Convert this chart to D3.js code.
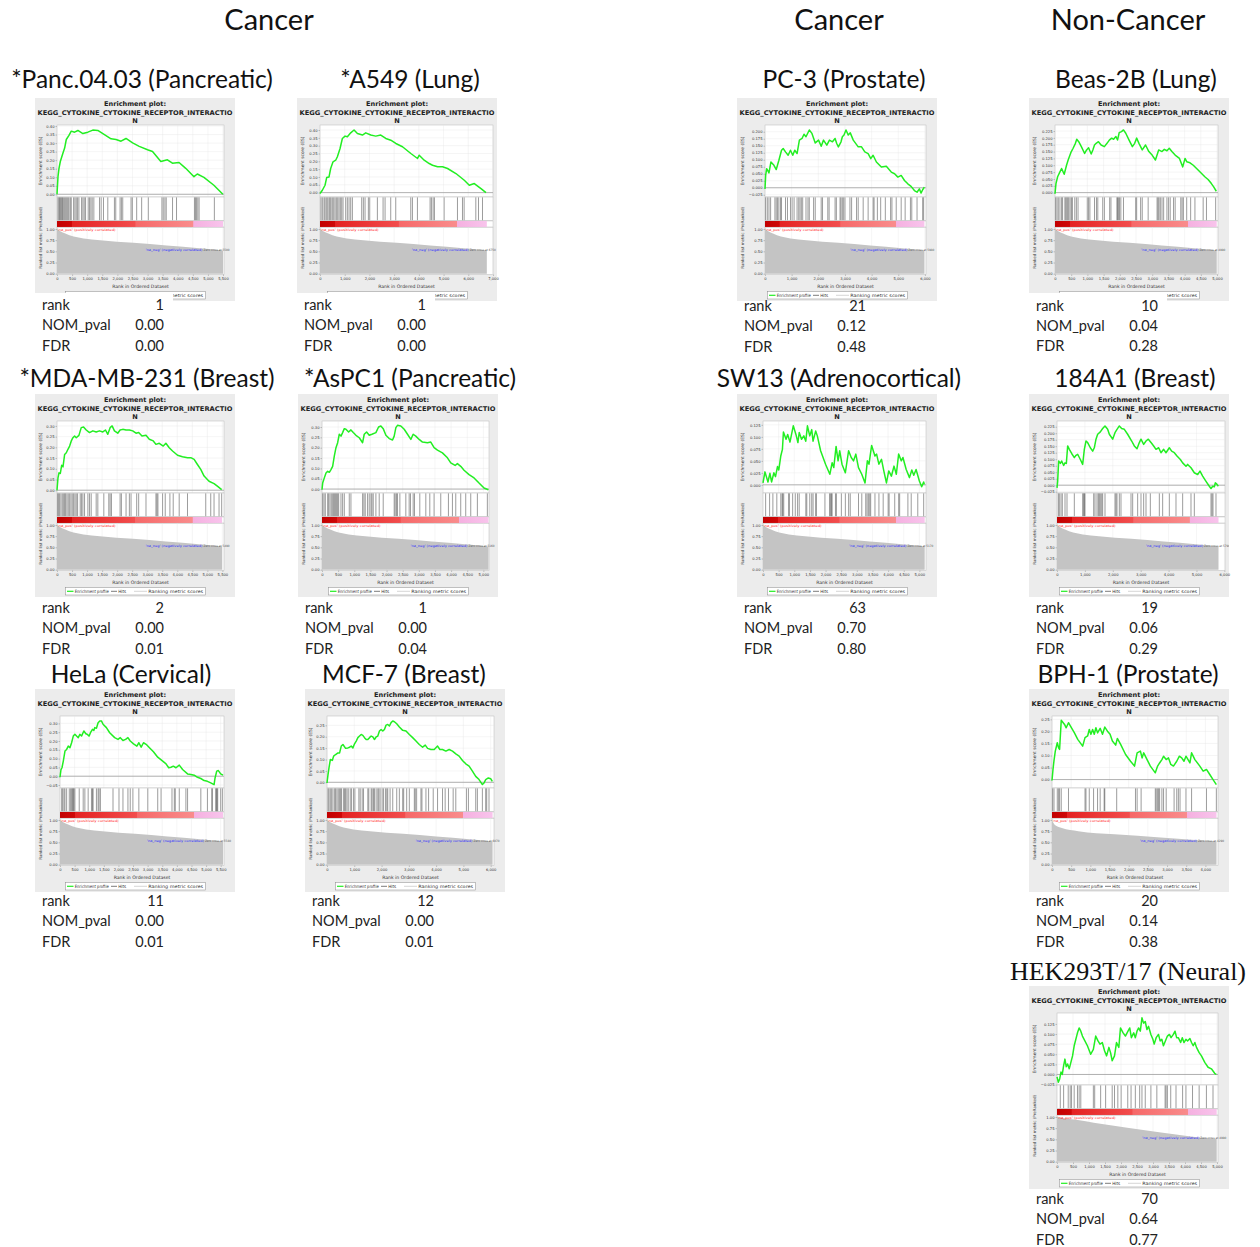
<!DOCTYPE html>
<html><head><meta charset="utf-8">
<script src="https://cdn.jsdelivr.net/npm/d3@7"></script>
<style>body{margin:0;background:#fff}</style>
</head><body><svg id="fig" width="1260" height="1247"></svg>
<script>
// ---- data -------------------------------------------------------------
const groupHeaders = ["Cancer", "Cancer", "Non-Cancer"];
const panelTitles = ["*Panc.04.03 (Pancreatic)", "*A549 (Lung)", "PC-3 (Prostate)", "Beas-2B (Lung)",
  "*MDA-MB-231 (Breast)", "*AsPC1 (Pancreatic)", "SW13 (Adrenocortical)", "184A1 (Breast)",
  "HeLa (Cervical)", "MCF-7 (Breast)", "BPH-1 (Prostate)", "HEK293T/17 (Neural)"];
const geneSet = ["Enrichment plot:", "KEGG_CYTOKINE_CYTOKINE_RECEPTOR_INTERACTIO", "N"];
const ranks = ["1", "1", "21", "10", "2", "1", "63", "19", "11", "12", "20", "70"];
const nomPvals = ["0.00", "0.00", "0.12", "0.04", "0.00", "0.00", "0.70", "0.06", "0.00", "0.00", "0.14", "0.64"];
const fdrs = ["0.00", "0.00", "0.48", "0.28", "0.01", "0.04", "0.80", "0.29", "0.01", "0.01", "0.38", "0.77"];
const listSizes = [5500, 6750, 5980, 4990, 5490, 5160, 5170, 5790, 5580, 6070, 4290, 4990];
const rankAxisMax = [5533, 7000, 6040, 5030, 5553, 5175, 5212, 6023, 5613, 6122, 4329, 5031];
const esDomains = [[-0.016, 0.406], [-0.028, 0.432], [-0.033, 0.224], [-0.016, 0.247],
  [-0.013, 0.323], [-0.019, 0.329], [-0.017, 0.133], [-0.030, 0.247],
  [-0.067, 0.342], [-0.025, 0.291], [-0.035, 0.264], [-0.026, 0.152]];

const ticks500_4000 = [0, 500, 1000, 1500, 2000, 2500, 3000, 3500, 4000];
const ticks500_5000 = [0, 500, 1000, 1500, 2000, 2500, 3000, 3500, 4000, 4500, 5000];
const ticks500_5500 = [0, 500, 1000, 1500, 2000, 2500, 3000, 3500, 4000, 4500, 5000, 5500];
const ticks1000_6000 = [0, 1000, 2000, 3000, 4000, 5000, 6000];
const ticks1000_7000 = [0, 1000, 2000, 3000, 4000, 5000, 6000, 7000];
const rankTicks = [ticks500_5500, ticks1000_7000, ticks1000_6000, ticks500_5000,
  ticks500_5500, ticks500_5000, ticks500_5000, ticks1000_6000,
  ticks500_5500, ticks1000_6000, ticks500_4000, ticks500_5000];

const es05_40 = [0, 0.05, 0.10, 0.15, 0.20, 0.25, 0.30, 0.35, 0.40];
const es05_30 = [0, 0.05, 0.10, 0.15, 0.20, 0.25, 0.30];
const es05_25 = [0, 0.05, 0.10, 0.15, 0.20, 0.25];
const es05_30n = [-0.05, 0, 0.05, 0.10, 0.15, 0.20, 0.25, 0.30];
const es025_200n = [-0.025, 0, 0.025, 0.05, 0.075, 0.1, 0.125, 0.15, 0.175, 0.2];
const es025_225 = [0, 0.025, 0.05, 0.075, 0.1, 0.125, 0.15, 0.175, 0.2, 0.225];
const es025_225n = [-0.025, 0, 0.025, 0.05, 0.075, 0.1, 0.125, 0.15, 0.175, 0.2, 0.225];
const es025_125 = [0, 0.025, 0.05, 0.075, 0.1, 0.125];
const es025_125n = [-0.025, 0, 0.025, 0.05, 0.075, 0.1, 0.125];
const esTicks = [es05_40, es05_40, es025_200n, es025_225, es05_30, es05_30, es025_125, es025_225n,
  es05_30n, es05_25, es05_25, es025_125n];

// running enrichment score, [rank, ES]
const esPanc = [[0,0],[33,0.103],[66,0.152],[110,0.192],[198,0.242],[253,0.271],[308,0.321],[396,0.345],[473,0.370],[582,0.364],[692,0.374],[857,0.356],[1022,0.364],[1187,0.376],[1352,0.374],[1571,0.350],[1791,0.325],[1956,0.321],[2121,0.311],[2286,0.327],[2505,0.301],[2725,0.281],[3000,0.261],[3165,0.251],[3440,0.192],[3659,0.202],[3824,0.182],[4044,0.186],[4264,0.152],[4538,0.103],[4648,0.119],[4868,0.099],[5198,0.053],[5495,0]];
const esA549 = [[0,-0.006],[95,0.015],[203,0.047],[270,0.096],[365,0.100],[432,0.154],[527,0.197],[635,0.207],[703,0.229],[811,0.282],[905,0.346],[1014,0.361],[1108,0.357],[1243,0.382],[1378,0.400],[1514,0.378],[1716,0.368],[1851,0.382],[2054,0.368],[2257,0.361],[2459,0.368],[2662,0.346],[2865,0.335],[3068,0.314],[3338,0.293],[3676,0.250],[3946,0.218],[4014,0.239],[4216,0.207],[4419,0.186],[4554,0.175],[4757,0.165],[4959,0.165],[5162,0.154],[5500,0.122],[5838,0.079],[6041,0.047],[6243,0.058],[6514,0.026],[6716,0]];
const esPC3 = [[0,-0.004],[25,0.044],[62,0.068],[149,0.053],[223,0.092],[335,0.080],[422,0.065],[521,0.098],[620,0.134],[682,0.140],[769,0.128],[868,0.116],[955,0.134],[1042,0.116],[1116,0.134],[1203,0.122],[1290,0.170],[1389,0.176],[1463,0.191],[1538,0.182],[1662,0.206],[1761,0.194],[1885,0.160],[2009,0.170],[2108,0.148],[2195,0.170],[2319,0.152],[2418,0.170],[2530,0.164],[2629,0.176],[2691,0.158],[2753,0.146],[2852,0.164],[2902,0.182],[2964,0.188],[3038,0.206],[3125,0.188],[3199,0.196],[3311,0.170],[3497,0.146],[3621,0.146],[3745,0.128],[3869,0.122],[3968,0.104],[4055,0.116],[4179,0.092],[4365,0.074],[4551,0.077],[4737,0.056],[4861,0.050],[4985,0.038],[5109,0.044],[5233,0.026],[5357,0.014],[5481,0.005],[5605,-0.010],[5704,-0.016],[5791,-0.004],[5853,-0.019],[5915,-0.007],[5977,0.002]];
const esBeas = [[0,-0.004],[30,0.033],[81,0.058],[152,0.076],[203,0.088],[284,0.067],[356,0.100],[406,0.119],[488,0.146],[559,0.162],[630,0.180],[671,0.195],[732,0.186],[813,0.168],[914,0.143],[975,0.156],[1036,0.164],[1117,0.141],[1168,0.156],[1219,0.174],[1270,0.180],[1341,0.186],[1422,0.174],[1524,0.168],[1605,0.180],[1676,0.192],[1748,0.199],[1808,0.195],[1880,0.205],[1930,0.192],[1981,0.219],[2052,0.223],[2113,0.229],[2184,0.217],[2286,0.192],[2388,0.168],[2459,0.180],[2520,0.199],[2591,0.180],[2692,0.156],[2794,0.174],[2896,0.150],[2997,0.137],[3099,0.119],[3200,0.156],[3302,0.150],[3373,0.158],[3454,0.153],[3526,0.162],[3607,0.150],[3708,0.137],[3840,0.125],[3942,0.094],[4013,0.125],[4064,0.113],[4166,0.109],[4267,0.100],[4369,0.088],[4470,0.076],[4623,0.058],[4724,0.048],[4826,0.033],[4897,0.021],[4978,0.005]];
const esMDA = [[0,0],[33,0.058],[66,0.081],[110,0.078],[155,0.116],[199,0.109],[254,0.167],[309,0.175],[364,0.191],[420,0.206],[475,0.230],[530,0.245],[585,0.253],[640,0.245],[729,0.256],[806,0.292],[883,0.295],[972,0.281],[1082,0.269],[1192,0.277],[1303,0.272],[1413,0.277],[1524,0.272],[1612,0.281],[1689,0.261],[1766,0.292],[1833,0.300],[1910,0.277],[2020,0.266],[2098,0.281],[2186,0.284],[2296,0.281],[2407,0.281],[2517,0.277],[2628,0.266],[2716,0.269],[2826,0.253],[2959,0.256],[3069,0.238],[3202,0.230],[3290,0.214],[3400,0.219],[3533,0.206],[3621,0.219],[3732,0.198],[3842,0.183],[4008,0.163],[4173,0.156],[4339,0.152],[4449,0.152],[4560,0.144],[4670,0.120],[4780,0.097],[4891,0.066],[5056,0.042],[5222,0.031],[5332,0.019],[5476,0.003]];
const esAsPC1 = [[0,-0.003],[21,0.029],[72,0.054],[124,0.078],[175,0.086],[227,0.081],[278,0.094],[330,0.110],[381,0.159],[433,0.200],[485,0.224],[536,0.265],[588,0.256],[639,0.273],[691,0.292],[742,0.289],[825,0.276],[897,0.286],[969,0.273],[1052,0.260],[1155,0.248],[1258,0.224],[1309,0.265],[1382,0.276],[1464,0.260],[1547,0.265],[1670,0.273],[1753,0.300],[1825,0.305],[1897,0.292],[1980,0.260],[2083,0.244],[2186,0.237],[2237,0.256],[2289,0.297],[2340,0.308],[2443,0.305],[2547,0.289],[2650,0.265],[2753,0.240],[2825,0.265],[2907,0.256],[3011,0.240],[3114,0.227],[3268,0.224],[3371,0.227],[3474,0.200],[3578,0.188],[3732,0.175],[3887,0.151],[3990,0.127],[4124,0.114],[4196,0.123],[4299,0.110],[4402,0.091],[4557,0.070],[4712,0.054],[4866,0.029],[5021,0.005],[5155,-0.003]];
const esSW13 = [[0,0.004],[63,0.027],[158,0.006],[221,0.024],[274,0.006],[347,0.025],[400,0.017],[463,0.038],[505,0.031],[568,0.060],[621,0.074],[653,0.110],[737,0.095],[789,0.105],[863,0.089],[968,0.123],[1053,0.105],[1116,0.088],[1158,0.109],[1232,0.095],[1305,0.102],[1368,0.091],[1421,0.123],[1495,0.102],[1558,0.115],[1600,0.091],[1684,0.112],[1737,0.102],[1842,0.071],[2000,0.043],[2137,0.022],[2211,0.046],[2263,0.036],[2337,0.080],[2400,0.050],[2453,0.071],[2526,0.043],[2632,0.025],[2737,0.071],[2821,0.057],[2895,0.050],[2968,0.064],[3053,0.036],[3158,0.022],[3263,0.004],[3337,0.050],[3389,0.043],[3474,0.082],[3579,0.060],[3632,0.064],[3705,0.043],[3789,0.053],[3863,0.029],[3947,0.004],[4021,0.029],[4105,0.018],[4189,0.039],[4263,0.022],[4337,0.064],[4421,0.050],[4474,0.057],[4579,0.032],[4684,0.015],[4758,0.031],[4821,0.020],[4895,0.032],[5000,0.008],[5074,-0.004],[5137,0.006],[5158,0.001]];
const es184A1 = [[0,-0.010],[24,0.015],[60,0.093],[120,0.084],[167,0.093],[239,0.076],[287,0.086],[335,0.084],[382,0.151],[442,0.138],[526,0.122],[621,0.106],[681,0.115],[741,0.119],[837,0.099],[920,0.080],[980,0.138],[1040,0.170],[1099,0.164],[1195,0.144],[1279,0.131],[1338,0.144],[1398,0.177],[1458,0.196],[1554,0.205],[1637,0.218],[1721,0.228],[1816,0.215],[1876,0.196],[1996,0.177],[2079,0.202],[2151,0.215],[2235,0.228],[2318,0.218],[2414,0.215],[2533,0.196],[2677,0.170],[2772,0.151],[2868,0.140],[2952,0.164],[3011,0.177],[3107,0.157],[3191,0.170],[3274,0.177],[3370,0.164],[3466,0.151],[3549,0.138],[3645,0.144],[3728,0.125],[3824,0.138],[3908,0.125],[4027,0.144],[4111,0.131],[4206,0.125],[4302,0.112],[4422,0.099],[4505,0.086],[4625,0.073],[4684,0.080],[4804,0.067],[4923,0.048],[5043,0.041],[5127,0.054],[5222,0.035],[5342,0.015],[5461,-0.004],[5521,-0.013],[5581,-0.004],[5640,-0.006],[5676,0.009],[5736,0.003],[5784,-0.004]];
const esHeLa = [[0,-0.006],[34,0.038],[68,0.048],[113,0.086],[170,0.143],[227,0.152],[283,0.171],[340,0.162],[397,0.190],[454,0.228],[510,0.238],[567,0.228],[624,0.219],[680,0.238],[737,0.228],[816,0.257],[885,0.241],[930,0.238],[998,0.228],[1043,0.247],[1111,0.266],[1157,0.260],[1191,0.276],[1247,0.272],[1304,0.304],[1361,0.314],[1418,0.314],[1474,0.295],[1588,0.276],[1701,0.247],[1871,0.219],[1985,0.209],[2064,0.219],[2155,0.203],[2245,0.209],[2325,0.219],[2404,0.200],[2517,0.184],[2631,0.171],[2699,0.190],[2778,0.165],[2858,0.190],[2948,0.181],[3062,0.162],[3198,0.139],[3345,0.108],[3515,0.086],[3629,0.070],[3720,0.048],[3799,0.051],[3878,0.057],[3969,0.048],[4082,0.063],[4196,0.038],[4366,0.013],[4479,0.010],[4593,0.006],[4706,-0.006],[4820,-0.013],[4933,-0.025],[5046,-0.029],[5160,-0.038],[5273,-0.048],[5307,-0.010],[5364,0.029],[5420,0.032],[5500,0.013],[5579,0.006]];
const esMCF7 = [[0,-0.003],[37,0.034],[73,0.063],[122,0.100],[195,0.096],[243,0.115],[316,0.122],[402,0.129],[462,0.129],[523,0.159],[584,0.166],[682,0.149],[767,0.151],[828,0.154],[888,0.159],[949,0.151],[1010,0.169],[1071,0.181],[1132,0.196],[1193,0.203],[1253,0.210],[1314,0.206],[1375,0.196],[1436,0.188],[1497,0.188],[1558,0.196],[1619,0.203],[1680,0.199],[1740,0.188],[1801,0.199],[1862,0.203],[1923,0.225],[1984,0.232],[2045,0.225],[2105,0.232],[2166,0.251],[2227,0.254],[2288,0.247],[2349,0.262],[2410,0.269],[2471,0.266],[2556,0.257],[2653,0.243],[2775,0.228],[2897,0.225],[3018,0.210],[3140,0.196],[3262,0.181],[3383,0.166],[3505,0.154],[3602,0.163],[3688,0.149],[3809,0.144],[3931,0.144],[4053,0.159],[4138,0.144],[4235,0.144],[4357,0.137],[4479,0.144],[4600,0.137],[4722,0.125],[4844,0.115],[4966,0.096],[5087,0.081],[5209,0.071],[5331,0.049],[5452,0.026],[5574,0.012],[5696,-0.010],[5756,-0.003],[5817,0.012],[5915,0.019],[6000,0.016],[6061,0.004]];
const esBPH1 = [[0,-0.004],[26,0.042],[52,0.079],[86,0.118],[138,0.153],[172,0.132],[198,0.125],[241,0.246],[327,0.229],[370,0.215],[430,0.236],[482,0.222],[585,0.194],[671,0.167],[800,0.139],[861,0.174],[929,0.181],[972,0.208],[1015,0.188],[1059,0.208],[1102,0.188],[1145,0.215],[1188,0.194],[1256,0.213],[1317,0.188],[1377,0.218],[1446,0.201],[1515,0.188],[1575,0.160],[1661,0.143],[1704,0.171],[1790,0.146],[1919,0.104],[2048,0.076],[2152,0.056],[2220,0.111],[2306,0.118],[2349,0.090],[2392,0.111],[2479,0.083],[2565,0.056],[2694,0.028],[2754,0.056],[2806,0.069],[2866,0.083],[2909,0.097],[2978,0.083],[3038,0.090],[3098,0.063],[3167,0.056],[3253,0.076],[3322,0.097],[3382,0.090],[3442,0.076],[3494,0.097],[3597,0.069],[3640,0.111],[3726,0.083],[3855,0.056],[3942,0.035],[4028,0.042],[4114,0.021],[4200,0],[4286,-0.021]];
const esHEK = [[0,-0.006],[41,-0.019],[83,-0.011],[124,0.006],[165,0],[207,0.022],[248,0.038],[289,0.019],[331,0.026],[382,0.014],[434,0.030],[486,0.046],[537,0.071],[589,0.087],[640,0.103],[692,0.115],[744,0.107],[795,0.095],[847,0.087],[950,0.071],[1053,0.050],[1136,0.062],[1209,0.095],[1281,0.083],[1343,0.075],[1415,0.079],[1488,0.058],[1550,0.046],[1622,0.067],[1673,0.054],[1725,0.034],[1797,0.046],[1859,0.079],[1932,0.067],[1983,0.115],[2066,0.103],[2138,0.095],[2190,0.103],[2273,0.115],[2324,0.091],[2397,0.103],[2448,0.091],[2500,0.107],[2552,0.115],[2603,0.107],[2655,0.140],[2706,0.127],[2758,0.131],[2810,0.111],[2861,0.119],[2934,0.099],[2996,0.087],[3037,0.075],[3099,0.091],[3171,0.099],[3223,0.083],[3275,0.087],[3326,0.071],[3409,0.087],[3450,0.095],[3512,0.099],[3564,0.091],[3636,0.099],[3688,0.107],[3739,0.091],[3791,0.091],[3863,0.079],[3915,0.091],[3967,0.079],[4029,0.087],[4080,0.083],[4153,0.089],[4204,0.079],[4256,0.071],[4308,0.079],[4359,0.067],[4442,0.054],[4514,0.046],[4617,0.030],[4721,0.018],[4824,0.014],[4927,0.003],[4979,0]];

// ranks of the gene-set members (hits)
const hitsPanc = [33,66,88,121,143,176,198,231,264,297,330,363,396,440,473,550,594,638,682,726,814,858,902,946,1034,1078,1122,1166,1221,1408,1463,1540,1683,1903,1947,2090,2134,2178,2453,2497,2640,2805,3025,3476,3520,3575,3619,3828,3960,4554,4587,4620,4664,4708,5214];
const hitsA549 = [41,95,162,203,257,311,365,405,446,500,554,608,662,716,770,824,878,932,1040,1107,1175,1242,1310,1688,1755,1823,1958,2012,2322,2552,2633,2862,3065,3672,3740,3942,4455,4509,4577,4631,5022,5562,5765,5832,6305,6413,6575];
const hitsPC3 = [25,87,149,211,372,422,471,521,583,620,769,843,955,1017,1091,1203,1265,1314,1364,1414,1538,1612,1662,1823,1885,2108,2158,2356,2406,2629,2678,2815,2852,2902,2951,3001,3187,3249,3435,3497,3683,3869,4055,4092,4216,4340,4514,4712,4762,4923,5109,5258,5456,5506,5704,5915,5952];
const hitsBeas = [20,61,102,152,203,234,305,335,366,396,427,467,508,538,610,660,711,996,1036,1077,1219,1280,1321,1473,1524,1687,1727,1910,1930,1961,1991,2032,2113,2489,2520,2642,2692,2875,3150,3180,3210,3251,3302,3353,3454,3505,3556,3658,3708,3881,3922,3962,4064,4186,4318,4572,4674,4958];
const hitsMDA = [22,55,88,132,177,221,254,287,331,375,420,464,508,552,596,640,684,773,817,861,916,1027,1082,1137,1303,1358,1557,1722,1766,1811,2098,2142,2296,2407,2462,2650,2716,2959,3290,3323,3356,3511,3599,3754,3864,4063,4339,4946,5112,5222,5388,5476];
const hitsAsPC1 = [21,62,103,175,206,247,289,330,361,392,423,454,485,516,588,639,691,845,897,1258,1299,1340,1412,1464,1516,1547,1588,1670,1773,1897,2237,2268,2309,2340,2413,2598,2701,2742,2825,2866,3031,3217,3340,3474,3680,3918,4042,4145,4299,4454,4609,4815,5124];
const hitsSW13 = [84,211,316,442,569,611,632,663,821,842,948,1032,1106,1158,1369,1400,1495,1558,1601,1685,1706,1980,2127,2159,2190,2211,2317,2348,2506,2633,2738,2790,3054,3159,3285,3327,3370,3412,3443,3580,3707,3843,4001,4033,4212,4338,4370,4633,4739,4949,5138];
const hits184A1 = [48,84,143,191,287,359,621,920,956,980,1004,1315,1362,1434,1482,1518,1554,1601,1637,1721,2079,2115,2151,2235,2294,2653,2713,2892,3011,3107,3191,3346,3669,3788,4027,4266,4505,4804,4923,5521,5557,5593,5700];
const hitsHeLa = [57,91,136,170,227,318,363,397,431,454,476,510,658,794,851,964,1077,1111,1134,1247,1304,1338,1383,1814,2019,2155,2325,2404,2495,2699,3005,3345,3459,3833,3912,3946,4082,4309,4366,4820,5046,5194,5216,5330,5352,5375,5398,5500,5557];
const hitsMCF7 = [37,73,122,170,219,280,316,365,414,462,499,535,609,645,682,730,779,852,901,974,1022,1168,1217,1290,1339,1497,1533,1619,1655,1704,1740,1801,1862,1899,1947,2020,2069,2142,2191,2227,2312,2410,2556,2653,2775,2811,2921,3018,3201,3237,3286,3444,3481,3627,3724,3894,4053,4235,4332,4454,4625,4722,5111,5184,5452,5513,5696,5817,5854,5939];
const hitsBPH1 = [17,52,138,172,198,241,430,861,886,972,1084,1188,1256,1360,1377,1687,2177,2220,2324,2694,2719,2754,2780,2806,2866,2909,2978,3184,3253,3296,3339,3494,3640,4028,4286];
const hitsHEK = [103,207,351,413,455,537,640,692,744,1136,1178,1364,1519,1725,1797,1901,2004,2211,2314,2448,2583,2655,2758,2934,3120,3378,3409,3450,3554,3719,3925,4029,4235,4442,4669,4875];

// ranked list metric, [fraction of list, scaled metric]
const metricTypical = [[0,1.0],[0.02,0.95],[0.05,0.9],[0.1,0.83],[0.16,0.79],[0.26,0.75],[0.46,0.69],[0.66,0.63],[0.86,0.57],[1.0,0.52]];
const metricBPH1 = [[0,1.0],[0.02,0.88],[0.06,0.82],[0.16,0.75],[0.38,0.68],[0.66,0.61],[1.0,0.52]];
const metricHEK = [[0,1.0],[0.05,0.97],[0.13,0.93],[0.23,0.87],[0.44,0.76],[0.64,0.66],[0.85,0.56],[1.0,0.51]];

const esSeries = [esPanc, esA549, esPC3, esBeas, esMDA, esAsPC1, esSW13, es184A1, esHeLa, esMCF7, esBPH1, esHEK];
const hitSeries = [hitsPanc, hitsA549, hitsPC3, hitsBeas, hitsMDA, hitsAsPC1, hitsSW13, hits184A1, hitsHeLa, hitsMCF7, hitsBPH1, hitsHEK];
const metricSeries = [metricTypical, metricTypical, metricTypical, metricTypical, metricTypical, metricTypical,
  metricTypical, metricTypical, metricTypical, metricTypical, metricBPH1, metricHEK];

// ---- layout -----------------------------------------------------------
const panelBoxes = [
  {x: 35, y: 98, left: 22, right: 189, cover: true},
  {x: 297, y: 98, left: 23, right: 196, cover: true},
  {x: 737, y: 98, left: 28, right: 189},
  {x: 1029, y: 98, left: 26, right: 189, cover: true},
  {x: 35, y: 394, left: 22, right: 189},
  {x: 298, y: 394, left: 24, right: 191},
  {x: 737, y: 394, left: 26, right: 189},
  {x: 1029, y: 394, left: 28, right: 196},
  {x: 35, y: 689, left: 25, right: 189},
  {x: 305, y: 689, left: 22, right: 189},
  {x: 1029, y: 689, left: 23, right: 189},
  {x: 1029, y: 986, left: 28, right: 189}
];
const titleCenters = [[142, 79], [410, 79], [844, 79], [1136, 79], [147, 378], [410, 378], [839, 378],
  [1135, 378], [131, 674], [404, 674], [1128, 674], [1128, 971]];
const statsTop = [305, 305, 306, 305.5, 608, 608, 608, 608, 901, 901, 901, 1199];
const headerCenters = [[269, 20], [839, 20], [1128, 20]];

const svg = d3.select("#fig");
const defs = svg.append("defs");
const grad = defs.append("linearGradient").attr("id", "rankBar")
  .attr("x1", 0).attr("x2", 1).attr("y1", 0).attr("y2", 0);
[[0, "#c20000"], [0.09, "#cf0808"], [0.093, "#e42222"], [0.47, "#f24d4d"], [0.475, "#f66868"],
 [0.82, "#f98c8c"], [0.823, "#f5b0e0"], [1, "#f8c4ec"]].forEach(([o, c]) =>
  grad.append("stop").attr("offset", o).attr("stop-color", c));
defs.append("clipPath").attr("id", "panelClip").append("rect").attr("width", 200).attr("height", 203);

const SANS = "'DejaVu Sans', sans-serif";

// vertical bands inside a panel
const ES_TOP = 27, ES_BOT = 99, HIT_BOT = 122.5, BAR_BOT = 129, MET_TOP = 129.2, MET_BOT = 176.5;

function drawPanel(i) {
  const box = panelBoxes[i];
  const N = listSizes[i];
  const L = box.left, R = box.right;
  const g = svg.append("g").attr("transform", `translate(${box.x},${box.y})`)
    .attr("font-family", SANS);
  g.append("rect").attr("width", 200).attr("height", 203).attr("fill", "#ececec");

  g.append("text").attr("x", 100).attr("y", 8).attr("text-anchor", "middle")
    .attr("font-size", 6.6).attr("font-weight", "bold").attr("fill", "#222").text(geneSet[0]);
  g.append("text").attr("x", 2.5).attr("y", 17).attr("font-size", 6.4).attr("font-weight", "bold")
    .attr("fill", "#222").attr("textLength", 195).attr("lengthAdjust", "spacingAndGlyphs").text(geneSet[1]);
  g.append("text").attr("x", 100).attr("y", 25).attr("text-anchor", "middle")
    .attr("font-size", 6.6).attr("font-weight", "bold").attr("fill", "#222").text(geneSet[2]);

  const x = d3.scaleLinear().domain([0, rankAxisMax[i]]).range([L, R]);
  const yES = d3.scaleLinear().domain(esDomains[i]).range([ES_BOT, ES_TOP]);
  const yM = d3.scaleLinear().domain([-0.018, 1.04]).range([MET_BOT, MET_TOP]);
  const fine = esTicks[i][1] - esTicks[i][0] < 0.04;

  // enrichment score panel
  g.append("rect").attr("x", L).attr("y", ES_TOP).attr("width", R - L).attr("height", ES_BOT - ES_TOP)
    .attr("fill", "#fff").attr("stroke", "#b8b8b8").attr("stroke-width", 0.5);
  const grid = g.append("g").attr("stroke", "#e6e6e6").attr("stroke-width", 0.4);
  rankTicks[i].forEach(t => {
    grid.append("line").attr("x1", x(t)).attr("x2", x(t)).attr("y1", ES_TOP).attr("y2", ES_BOT);
  });
  esTicks[i].forEach(t => grid.append("line").attr("x1", L).attr("x2", R).attr("y1", yES(t)).attr("y2", yES(t)));
  g.append("line").attr("x1", L).attr("x2", R).attr("y1", yES(0)).attr("y2", yES(0))
    .attr("stroke", "#a0a0a0").attr("stroke-width", 0.8);

  const esAxis = g.append("g").attr("transform", `translate(${L},0)`)
    .call(d3.axisLeft(yES).tickValues(esTicks[i]).tickSize(1.5).tickPadding(1)
      .tickFormat(d3.format(fine ? ".3f" : ".2f")));
  esAxis.select(".domain").remove();
  esAxis.selectAll("line").attr("stroke", "#777").attr("stroke-width", 0.4);
  esAxis.selectAll("text").attr("font-size", 3.7).attr("fill", "#333").attr("font-family", SANS);

  g.append("text").attr("transform", `translate(6.5,${(ES_TOP + ES_BOT) / 2}) rotate(-90)`)
    .attr("text-anchor", "middle").attr("font-size", 4.4).attr("fill", "#333").text("Enrichment score (ES)");

  g.append("path").datum(esSeries[i])
    .attr("d", d3.line().x(d => x(d[0])).y(d => yES(d[1])))
    .attr("fill", "none").attr("stroke", "#22ee22").attr("stroke-width", 1.5)
    .attr("stroke-linejoin", "round");

  // hit positions
  g.append("rect").attr("x", L).attr("y", ES_BOT).attr("width", R - L).attr("height", HIT_BOT - ES_BOT)
    .attr("fill", "#fff").attr("stroke", "#b8b8b8").attr("stroke-width", 0.5);
  g.append("g").selectAll("line").data(hitSeries[i]).join("line")
    .attr("x1", d => x(d)).attr("x2", d => x(d)).attr("y1", ES_BOT + 0.4).attr("y2", HIT_BOT - 0.3)
    .attr("stroke", "#111").attr("stroke-opacity", 0.6).attr("stroke-width", 0.7);

  // ranked-list colour bar
  g.append("rect").attr("x", L).attr("y", HIT_BOT + 0.5).attr("width", R - L).attr("height", BAR_BOT - HIT_BOT - 0.5)
    .attr("fill", "#fff").attr("stroke", "#b8b8b8").attr("stroke-width", 0.4);
  g.append("rect").attr("x", x(0)).attr("y", HIT_BOT + 0.5).attr("width", x(N) - x(0))
    .attr("height", BAR_BOT - HIT_BOT - 0.5).attr("fill", "url(#rankBar)");

  // ranked list metric
  g.append("rect").attr("x", L).attr("y", MET_TOP).attr("width", R - L).attr("height", MET_BOT - MET_TOP)
    .attr("fill", "#fff").attr("stroke", "#b8b8b8").attr("stroke-width", 0.5);
  const mgrid = g.append("g").attr("stroke", "#e6e6e6").attr("stroke-width", 0.4);
  rankTicks[i].forEach(t => {
    mgrid.append("line").attr("x1", x(t)).attr("x2", x(t)).attr("y1", MET_TOP).attr("y2", MET_BOT);
  });
  g.append("path").datum(metricSeries[i])
    .attr("d", d3.area().curve(d3.curveMonotoneX).x(d => x(d[0] * N)).y0(yM(0)).y1(d => yM(d[1])))
    .attr("fill", "#c4c4c4");

  g.append("text").attr("x", L + 0.5).attr("y", MET_TOP + 3.6).attr("font-size", 3.3).attr("fill", "#ff2020")
    .attr("textLength", 58).attr("lengthAdjust", "spacingAndGlyphs")
    .text("'na_pos' (positively correlated)");
  const negX = L + (R - L) * 0.53;
  const negY = yM(0.5);
  g.append("text").attr("x", negX).attr("y", negY).attr("font-size", 3.3).attr("fill", "#2a2aff")
    .attr("textLength", 57).attr("lengthAdjust", "spacingAndGlyphs")
    .text("'na_neg' (negatively correlated)");
  g.append("g").attr("clip-path", "url(#panelClip)")
    .append("text").attr("x", negX + 58).attr("y", negY).attr("font-size", 3.0).attr("fill", "#555")
    .attr("textLength", 26).attr("lengthAdjust", "spacingAndGlyphs")
    .text("Zero cross at " + N);

  const mAxis = g.append("g").attr("transform", `translate(${L},0)`)
    .call(d3.axisLeft(yM).tickValues([0, 0.25, 0.5, 0.75, 1]).tickSize(1.5).tickPadding(1).tickFormat(d3.format(".2f")));
  mAxis.select(".domain").remove();
  mAxis.selectAll("line").attr("stroke", "#777").attr("stroke-width", 0.4);
  mAxis.selectAll("text").attr("font-size", 3.7).attr("fill", "#333").attr("font-family", SANS);

  const xAxis = g.append("g").attr("transform", `translate(0,${MET_BOT})`)
    .call(d3.axisBottom(x).tickValues(rankTicks[i]).tickSize(1.5).tickPadding(1).tickFormat(d3.format(",")));
  xAxis.select(".domain").remove();
  xAxis.selectAll("line").attr("stroke", "#777").attr("stroke-width", 0.4);
  xAxis.selectAll("text").attr("font-size", 3.7).attr("fill", "#333").attr("font-family", SANS);

  g.append("text").attr("x", (L + R) / 2).attr("y", 189.5).attr("text-anchor", "middle")
    .attr("font-size", 4.6).attr("fill", "#333").text("Rank in Ordered Dataset");
  g.append("text").attr("transform", `translate(6.5,${(ES_BOT + MET_BOT) / 2 + 2}) rotate(-90)`)
    .attr("text-anchor", "middle").attr("font-size", 4.0).attr("fill", "#333").text("Ranked list metric (PreRanked)");

  // legend
  const lg = g.append("g");
  lg.append("rect").attr("x", 30.5).attr("y", 193.5).attr("width", 140).attr("height", 7.5)
    .attr("fill", "#fff").attr("stroke", "#888").attr("stroke-width", 0.5);
  [[32, 38.5, "#22ee22", 1.2, "Enrichment profile", 34], [76, 82, "#222", 0.6, "Hits", 8],
   [99, 112, "#ccc", 0.8, "Ranking metric scores", 55]].forEach(([a, b, c, w, label, len]) => {
    lg.append("line").attr("x1", a).attr("x2", b).attr("y1", 197.3).attr("y2", 197.3)
      .attr("stroke", c).attr("stroke-width", w);
    lg.append("text").attr("x", b + 1.2).attr("y", 199).attr("font-size", 4.4).attr("fill", "#333")
      .attr("textLength", len).attr("lengthAdjust", "spacingAndGlyphs").text(label);
  });

  if (box.cover) {
    g.append("rect").attr("x", -3).attr("y", 195).attr("width", 141).attr("height", 10).attr("fill", "#fff");
  }
}

panelBoxes.forEach((b, i) => drawPanel(i));

// headers and cell-line titles
headerCenters.forEach(([cx, cy], i) => {
  svg.append("text").attr("x", cx).attr("y", cy).attr("dy", "0.35em").attr("text-anchor", "middle")
    .attr("font-family", "Lato, sans-serif").attr("font-size", 29).attr("fill", "#111").text(groupHeaders[i]);
});
titleCenters.forEach(([cx, cy], i) => {
  const serif = i === 11;
  svg.append("text").attr("x", cx).attr("y", cy).attr("dy", "0.35em").attr("text-anchor", "middle")
    .attr("font-family", serif ? "'Liberation Serif', serif" : "Lato, sans-serif")
    .attr("font-size", serif ? 26 : 24.5).attr("fill", "#111").text(panelTitles[i]);
});

// statistics under each panel
const statNames = ["rank", "NOM_pval", "FDR"];
panelBoxes.forEach((b, i) => {
  const vals = [ranks[i], nomPvals[i], fdrs[i]];
  statNames.forEach((name, k) => {
    const y = statsTop[i] + k * 20.3;
    svg.append("text").attr("x", b.x + 7).attr("y", y).attr("dy", "0.35em")
      .attr("font-family", "Lato, sans-serif").attr("font-size", 14.5).attr("fill", "#222").text(name);
    svg.append("text").attr("x", b.x + 129).attr("y", y).attr("dy", "0.35em").attr("text-anchor", "end")
      .attr("font-family", "Lato, sans-serif").attr("font-size", 14.5).attr("fill", "#222").text(vals[k]);
  });
});
</script></body></html>
